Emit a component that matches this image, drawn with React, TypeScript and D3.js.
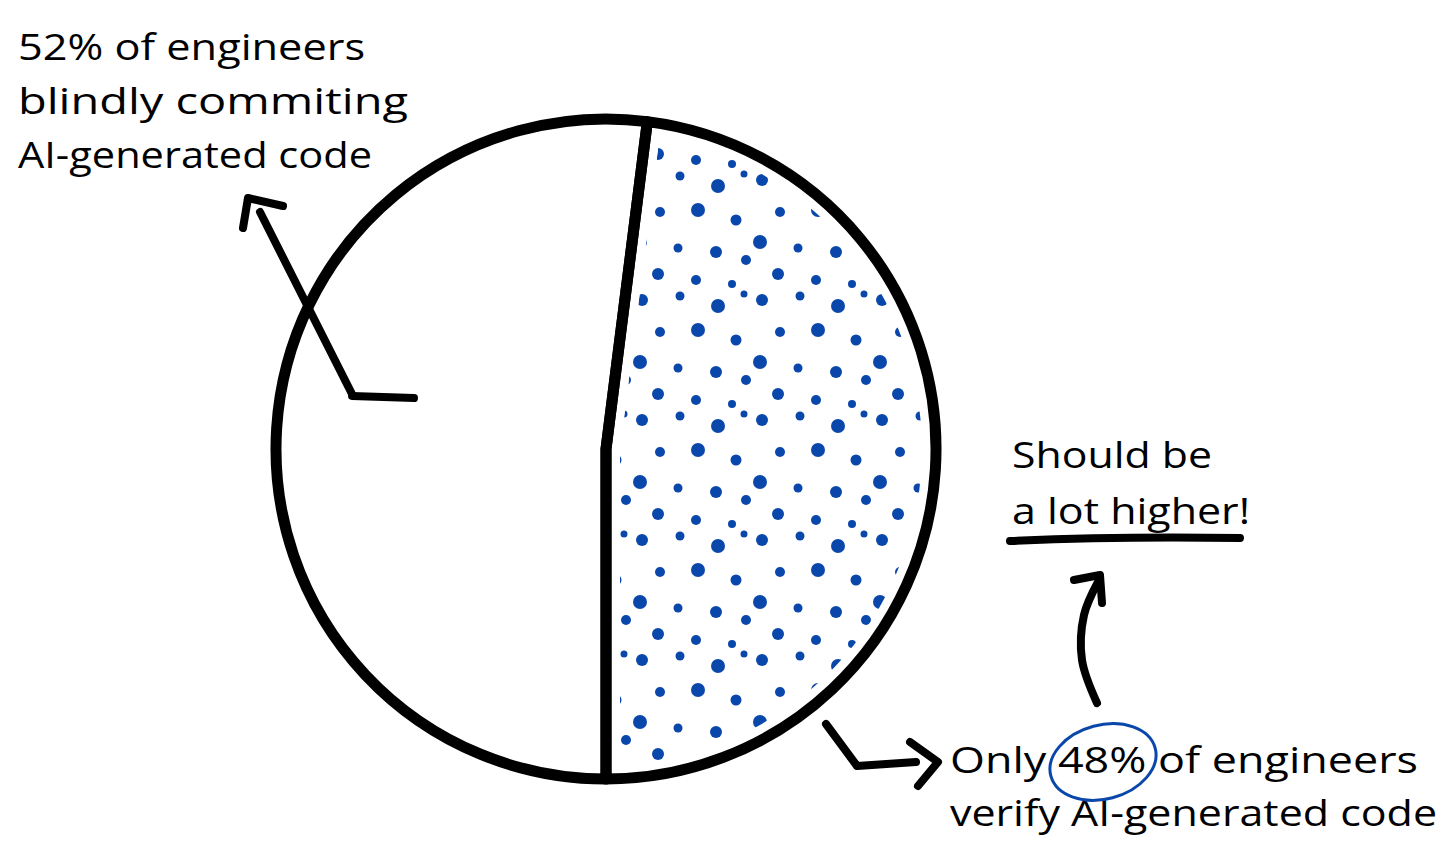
import React from 'react';
import * as d3 from 'd3';

// slice values (percent of engineers)
const groups = ['verify', 'blindly commit'];
const shares = [48, 52];

// annotation text lines
const topLeftLines = ['52% of engineers', 'blindly commiting', 'AI-generated code'];
const rightLines = ['Should be', 'a lot higher!'];
const bottomLines = ['Only 48% of engineers', 'verify AI-generated code'];

// texture dots for the verified slice: [x, y, r] inside one 120px tile
const dotTile = [
  [10, 12, 6], [48, 8, 4.5], [86, 18, 7], [112, 6, 3.5],
  [28, 44, 5], [66, 42, 7], [104, 52, 5.5],
  [8, 74, 7], [46, 80, 4.5], [84, 84, 6], [114, 92, 5],
  [26, 106, 6], [64, 112, 5], [100, 116, 4],
];

const W = 1456;
const H = 868;
const cx = 606;
const cy = 449;
const R = 330;
const BLUE = '#0a47aa';
const FONT = "'Open Sans', 'DejaVu Sans', sans-serif";

const App = () => {
  // verify slice first, ending at 6 o'clock
  const verifyShare = shares[0] / 100;
  const start = Math.PI - verifyShare * 2 * Math.PI;
  const pie = d3
    .pie<number>()
    .sort(null)
    .startAngle(start)
    .endAngle(start + 2 * Math.PI)
    .value((d) => d);
  const arcs = pie(shares);
  const arc = d3.arc<d3.PieArcDatum<number>>().innerRadius(0).outerRadius(R);

  const line = d3.line().curve(d3.curveCatmullRom);

  return (
    <svg width={W} height={H} style={{ position: 'absolute', left: 0, top: 0, background: '#fff' }}>
      <defs>
        <pattern id="dots" width={120} height={120} patternUnits="userSpaceOnUse" x={cx + 20} y={cy - 10}>
          {dotTile.map(([x, y, r], i) => (
            <circle key={i} cx={x} cy={y} r={r} fill={BLUE} />
          ))}
        </pattern>
      </defs>

      <g transform={`translate(${cx},${cy})`}>
        <circle r={R} fill="#fff" />
        {arcs.map((a, i) => (
          <path key={groups[i] + 'f'} d={arc(a) || ''} fill={i === 0 ? 'url(#dots)' : '#fff'} />
        ))}
        {/* white margin inside the border, then the border itself */}
        {arcs.map((a, i) => (
          <path key={groups[i] + 'm'} d={arc(a) || ''} fill="none" stroke="#fff" strokeWidth={28} strokeLinejoin="round" />
        ))}
        {arcs.map((a, i) => (
          <path key={groups[i] + 's'} d={arc(a) || ''} fill="none" stroke="#000" strokeWidth={11} strokeLinejoin="round" />
        ))}
      </g>

      {/* top-left annotation */}
      <g fontFamily={FONT} fontSize={36} fill="#000">
        {topLeftLines.map((t, i) => (
          <text key={t} x={18} y={60 + i * 54} textLength={[347, 390, 354][i]} lengthAdjust="spacingAndGlyphs">
            {t}
          </text>
        ))}
      </g>
      <g fill="none" stroke="#000" strokeWidth={8} strokeLinecap="round" strokeLinejoin="round">
        <path d="M352,396 L414,398" />
        <path d="M352,394 L260,212" />
        <path d="M243,228 L248,198 L283,206" />
      </g>

      {/* right annotation */}
      <g fontFamily={FONT} fontSize={36} fill="#000">
        {rightLines.map((t, i) => (
          <text key={t} x={1012} y={468 + i * 56} textLength={[200, 238][i]} lengthAdjust="spacingAndGlyphs">
            {t}
          </text>
        ))}
      </g>
      <path d="M1010,541 Q1120,536 1240,538" fill="none" stroke="#000" strokeWidth={8} strokeLinecap="round" />
      <g fill="none" stroke="#000" strokeWidth={8} strokeLinecap="round" strokeLinejoin="round">
        <path d={line([[1097, 703], [1082, 660], [1084, 615], [1098, 582]]) || ''} />
        <path d="M1074,580 L1100,575 L1102,603" />
      </g>

      {/* bottom annotation */}
      <g fontFamily={FONT} fontSize={36} fill="#000">
        {bottomLines.map((t, i) => (
          <text key={t} x={950} y={773 + i * 53} textLength={[468, 487][i]} lengthAdjust="spacingAndGlyphs">
            {t}
          </text>
        ))}
      </g>
      <ellipse cx={1103} cy={762} rx={54} ry={37} transform="rotate(-15 1103 762)" fill="none" stroke={BLUE} strokeWidth={3} />
      <g fill="none" stroke="#000" strokeWidth={8} strokeLinecap="round" strokeLinejoin="round">
        <path d="M826,724 L857,766 L916,762" />
        <path d="M910,742 L938,762 L918,786" />
      </g>
    </svg>
  );
};

export default App;
